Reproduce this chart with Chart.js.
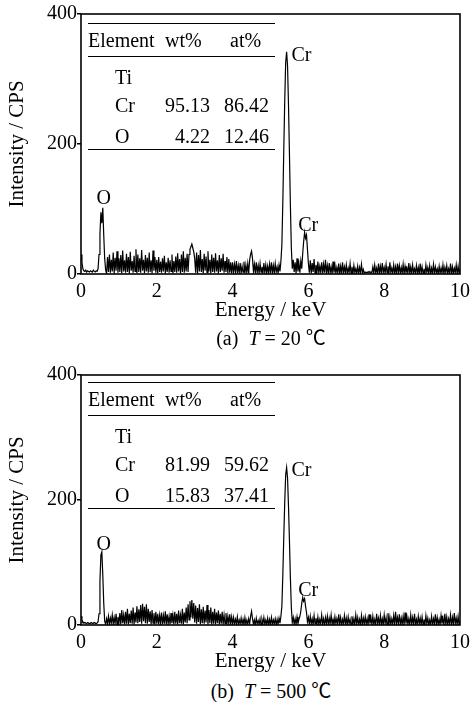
<!DOCTYPE html>
<html>
<head>
<meta charset="utf-8">
<script src="https://cdn.jsdelivr.net/npm/chart.js@4.4.1/dist/chart.umd.min.js"></script>
<style>
  body { margin: 0; background: #fff; width: 470px; height: 702px; position: relative; overflow: hidden;
         font-family: 'Liberation Serif', 'Times New Roman', Times, 'DejaVu Serif', serif; color: #000; }
  canvas { position: absolute; left: 0; }
  .t { position: absolute; font-size: 20px; line-height: 24px; white-space: nowrap; }
  .r { text-align: right; }
  .rule { position: absolute; left: 88px; width: 187px; height: 0; border-top: 1.6px solid #000; }
  .cap { position: absolute; left: 81px; width: 380px; text-align: center; font-size: 20px; line-height: 24px; }
  .deg { font-family: 'Noto Sans CJK SC', sans-serif; }
</style>
</head>
<body>
<canvas id="chartA" width="470" height="323" style="top:0"></canvas>
<canvas id="chartB" width="470" height="313" style="top:361px"></canvas>
<div class="cap" style="top:325px">(a)&ensp;<i>T</i> = 20 <span class="deg">℃</span></div>
<div class="cap" style="top:678px">(b)&ensp;<i>T</i> = 500 <span class="deg">℃</span></div>

<script>
// channel width of the spectra, keV
const step = 0.025;

// EDS counts, (a) T = 20 C, 0..10 keV (20 channels = 0.5 keV per row)
const cpsA = [
  30, 18, 8, 5, 4, 6, 3, 5, 4, 3, 5, 4, 3, 6, 4, 3, 5, 4, 8, 30,
  62, 95, 78, 102, 60, 24, 6, 1, 26, 3, 30, 2, 22, 4, 33, 1, 25, 5, 35, 2,
  24, 3, 29, 1, 36, 4, 21, 2, 31, 3, 26, 1, 34, 5, 20, 2, 28, 4, 38, 1,
  30, 3, 24, 2, 37, 5, 22, 1, 29, 4, 25, 2, 33, 3, 21, 1, 36, 5, 26, 2,
  22, 1, 26, 3, 19, 2, 24, 4, 28, 1, 18, 3, 25, 2, 21, 4, 30, 1, 20, 3,
  27, 2, 32, 4, 23, 1, 30, 3, 35, 2, 25, 4, 31, 3, 30, 38, 42, 46, 40, 34,
  24, 2, 33, 1, 29, 4, 37, 3, 23, 1, 31, 5, 27, 2, 35, 4, 22, 1, 30, 3,
  25, 2, 32, 4, 21, 1, 29, 3, 24, 5, 31, 2, 20, 3, 26, 1, 23, 2, 18, 1,
  18, 2, 15, 3, 20, 1, 13, 2, 17, 1, 12, 3, 19, 1, 14, 2, 16, 1, 22, 30,
  35, 24, 4, 15, 1, 18, 2, 13, 1, 16, 3, 11, 1, 17, 2, 14, 1, 12, 2, 15,
  1, 18, 2, 13, 1, 16, 3, 11, 1, 14, 4, 20, 45, 110, 190, 265, 325, 342, 320, 260,
  185, 105, 40, 8, 22, 3, 18, 1, 24, 4, 16, 2, 20, 8, 32, 50, 64, 55, 60, 38,
  16, 2, 21, 1, 17, 3, 23, 1, 14, 2, 19, 1, 12, 3, 18, 1, 15, 2, 22, 1,
  13, 1, 17, 2, 11, 0, 19, 2, 14, 1, 10, 2, 16, 0, 12, 1, 18, 1, 11, 2,
  14, 0, 9, 2, 16, 1, 11, 0, 13, 2, 8, 1, 12, 0, 10, 2, 15, 1, 7, 1,
  3, 2, 3, 2, 4, 2, 3, 2, 11, 1, 14, 2, 9, 0, 16, 1, 12, 1, 17, 2,
  10, 1, 15, 2, 12, 0, 18, 2, 9, 1, 14, 1, 11, 0, 16, 2, 13, 1, 10, 1,
  15, 0, 12, 2, 9, 1, 17, 1, 11, 0, 14, 2, 8, 1, 13, 1, 10, 0, 16, 1,
  11, 1, 8, 0, 14, 2, 10, 1, 13, 0, 9, 1, 15, 1, 11, 2, 8, 0, 12, 1,
  9, 1, 14, 0, 10, 2, 13, 1, 8, 1, 16, 0, 11, 1, 9, 2, 14, 0, 12, 1,
  8
];

// EDS counts, (b) T = 500 C
const cpsB = [
  14, 8, 5, 3, 4, 3, 2, 4, 3, 2, 3, 4, 2, 3, 4, 3, 2, 3, 5, 18,
  70, 112, 117, 80, 35, 6, 1, 10, 2, 14, 1, 11, 3, 16, 1, 12, 2, 18, 1, 13,
  2, 19, 1, 24, 3, 16, 1, 21, 2, 26, 1, 18, 3, 23, 2, 28, 1, 20, 4, 30,
  3, 25, 5, 32, 2, 34, 6, 29, 3, 33, 2, 26, 5, 22, 1, 24, 3, 19, 1, 21,
  2, 18, 1, 16, 3, 20, 1, 15, 2, 22, 1, 17, 2, 14, 1, 19, 3, 16, 1, 21,
  2, 18, 1, 23, 3, 16, 2, 26, 1, 20, 4, 28, 3, 33, 8, 38, 12, 40, 10, 35,
  4, 31, 2, 27, 5, 33, 1, 25, 3, 29, 2, 23, 4, 32, 1, 24, 3, 28, 1, 21,
  2, 26, 1, 20, 3, 23, 1, 18, 2, 21, 1, 16, 2, 19, 1, 14, 2, 17, 1, 13,
  2, 12, 1, 9, 2, 13, 0, 8, 2, 11, 1, 9, 0, 12, 1, 8, 1, 10, 2, 14,
  22, 10, 1, 8, 0, 11, 2, 7, 1, 10, 0, 9, 2, 12, 1, 8, 1, 11, 0, 9,
  1, 12, 1, 8, 2, 10, 0, 9, 1, 11, 3, 14, 30, 80, 140, 195, 240, 252, 235, 190,
  135, 75, 28, 4, 12, 1, 10, 1, 13, 2, 9, 14, 22, 35, 44, 38, 42, 30, 20, 5,
  12, 1, 14, 2, 10, 0, 15, 2, 11, 1, 13, 0, 9, 2, 16, 1, 10, 0, 12, 2,
  14, 0, 11, 2, 16, 1, 9, 0, 13, 2, 10, 1, 17, 1, 12, 0, 9, 2, 15, 1,
  11, 0, 13, 2, 9, 0, 14, 1, 10, 0, 16, 2, 12, 0, 9, 1, 15, 0, 11, 2,
  13, 1, 10, 0, 17, 2, 12, 0, 14, 1, 9, 0, 18, 2, 11, 0, 15, 1, 10, 0,
  16, 2, 12, 0, 19, 1, 13, 0, 10, 2, 15, 0, 21, 1, 12, 2, 17, 0, 11, 1,
  14, 0, 20, 2, 13, 1, 10, 0, 16, 2, 12, 0, 18, 1, 9, 0, 14, 2, 11, 0,
  13, 1, 9, 0, 15, 2, 11, 0, 8, 1, 14, 0, 10, 2, 17, 0, 12, 1, 9, 0,
  15, 2, 11, 0, 18, 1, 13, 0, 10, 2, 16, 0, 12, 1, 19, 2, 11, 0, 14, 1,
  7
];

// peak labels: name, energy (keV), peak height (CPS)
const peakNames = ['O', 'Cr', 'Cr'];
const peakKeV = [0.55, 5.42, 5.94];
const peakA = [104, 341, 63];
const peakB = [117, 252, 43];

// composition tables
const tableElems = ['Ti', 'Cr', 'O'];
const wtA = ['', '95.13', '4.22'];
const atA = ['', '86.42', '12.46'];
const wtB = ['', '81.99', '15.83'];
const atB = ['', '59.62', '37.41'];

const FONT = "'Liberation Serif', 'Times New Roman', Times, 'DejaVu Serif', serif";

// box round the plot + peak names
const framePlugin = {
  id: 'frame',
  afterDatasetsDraw(chart, args, opts) {
    const { ctx, chartArea: a, scales } = chart;
    ctx.save();
    ctx.strokeStyle = '#000';
    ctx.lineWidth = 1.6;
    ctx.strokeRect(a.left, a.top, a.right - a.left, a.bottom - a.top);

    ctx.fillStyle = '#000';
    ctx.font = '20px ' + FONT;
    opts.heights.forEach((h, i) => {
      const px = scales.x.getPixelForValue(peakKeV[i]);
      const py = scales.y.getPixelForValue(h);
      if (i === 1) {
        ctx.textAlign = 'left';
        ctx.textBaseline = 'middle';
        ctx.fillText(peakNames[i], px + 5, py + 3);
      } else {
        ctx.textAlign = 'center';
        ctx.textBaseline = 'alphabetic';
        ctx.fillText(peakNames[i], px + 2, py - 2);
      }
    });
    ctx.restore();
  }
};

function makeChart(id, cps, heights) {
  return new Chart(document.getElementById(id), {
    type: 'line',
    data: {
      datasets: [{
        data: cps.map((v, i) => ({ x: i * step, y: v })),
        borderColor: '#000',
        borderWidth: 1.2,
        pointRadius: 0,
        tension: 0,
        fill: false
      }]
    },
    options: {
      responsive: false,
      animation: false,
      layout: { autoPadding: false, padding: { left: 5, right: 9, top: 14, bottom: 0 } },
      plugins: { legend: { display: false }, tooltip: { enabled: false }, frame: { heights } },
      scales: {
        x: {
          type: 'linear', min: 0, max: 10,
          afterFit: s => { s.height = 49; },
          grid: { display: false },
          border: { display: false },
          ticks: { stepSize: 2, color: '#000', padding: 0, font: { family: FONT, size: 20, lineHeight: 1 } },
          title: { display: true, text: 'Energy / keV', color: '#000', padding: 0, font: { family: FONT, size: 21 } }
        },
        y: {
          min: 0, max: 400,
          afterFit: s => { s.width = 76; },
          grid: { drawOnChartArea: false, drawTicks: true, tickLength: 4, color: '#000', lineWidth: 1.5 },
          border: { display: false },
          ticks: { stepSize: 200, color: '#000', padding: 0, font: { family: FONT, size: 20 } },
          title: { display: true, text: 'Intensity / CPS', color: '#000', padding: 0, font: { family: FONT, size: 21 } }
        }
      }
    },
    plugins: [framePlugin]
  });
}

makeChart('chartA', cpsA, peakA);
makeChart('chartB', cpsB, peakB);

// inset composition tables
function addTable(top, wt, at) {
  const parts = [];
  parts.push(`<div class="rule" style="top:${top - 1}px"></div>`);
  parts.push(`<div class="t" style="left:88px;top:${top + 4}px">Element</div>`);
  parts.push(`<div class="t" style="left:165px;top:${top + 4}px">wt%</div>`);
  parts.push(`<div class="t" style="left:230px;top:${top + 4}px">at%</div>`);
  parts.push(`<div class="rule" style="top:${top + 32}px"></div>`);
  const rowY = [53, 81, 112];
  tableElems.forEach((el, i) => {
    const y = top + rowY[i] - 12;
    parts.push(`<div class="t" style="left:115px;top:${y}px">${el}</div>`);
    parts.push(`<div class="t r" style="left:160px;width:50px;top:${y}px">${wt[i]}</div>`);
    parts.push(`<div class="t r" style="left:210px;width:59px;top:${y}px">${at[i]}</div>`);
  });
  parts.push(`<div class="rule" style="top:${top + 125}px"></div>`);
  document.body.insertAdjacentHTML('beforeend', parts.join(''));
}
addTable(24, wtA, atA);
addTable(383, wtB, atB);
</script>
</body>
</html>
